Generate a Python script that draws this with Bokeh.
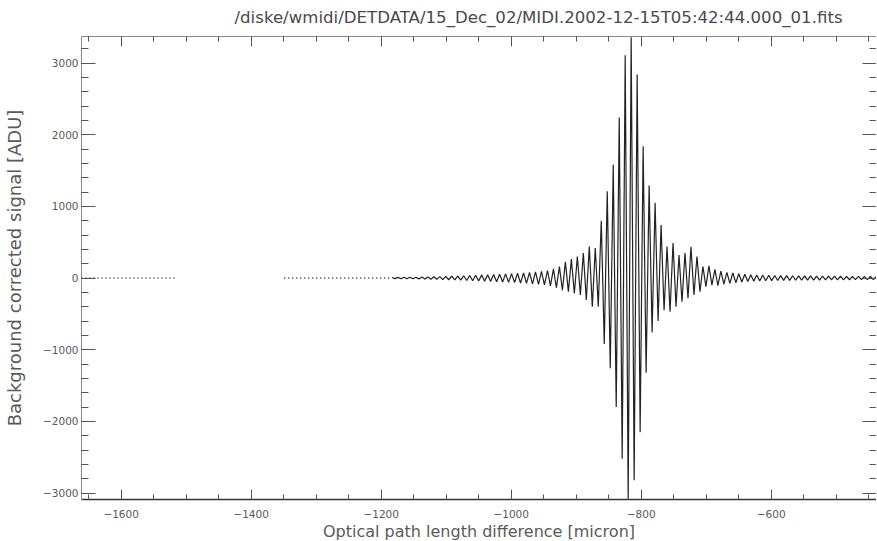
from bokeh.plotting import figure
from bokeh.models import LinearAxis, Range1d, FixedTicker
from bokeh.embed import file_html
from bokeh.resources import INLINE

title_text = "/diske/wmidi/DETDATA/15_Dec_02/MIDI.2002-12-15T05:42:44.000_01.fits"
x_label = "Optical path length difference [micron]"
y_label = "Background corrected signal [ADU]"

# fringe packet: optical path difference of each extremum (micron) and signal (ADU)
opd_um = [
    -1183.4, -1178.8, -1174.2, -1169.6, -1165.0, -1160.4, -1155.8, -1151.2, -1146.6, -1142.0,
    -1137.4, -1132.8, -1128.2, -1123.6, -1119.0, -1114.4, -1109.8, -1105.2, -1100.6, -1096.0,
    -1091.4, -1086.8, -1082.2, -1077.6, -1073.0, -1068.4, -1063.8, -1059.2, -1054.6, -1050.0,
    -1045.4, -1040.8, -1036.2, -1031.6, -1027.0, -1022.4, -1017.8, -1013.2, -1008.6, -1004.0,
    -999.4, -994.8, -990.2, -985.6, -981.0, -976.4, -971.8, -967.2, -962.6, -958.0,
    -953.4, -948.8, -944.2, -939.6, -935.0, -930.4, -925.8, -921.2, -916.6, -912.0,
    -907.4, -902.8, -898.2, -893.6, -889.0, -884.4, -879.8, -875.2, -870.6, -866.0,
    -861.4, -856.8, -852.2, -847.6, -843.0, -838.4, -833.8, -829.2, -824.6, -820.0,
    -815.4,
    -810.8, -806.2, -801.6, -797.0, -792.4, -787.8, -783.2, -778.6, -774.0, -769.4,
    -764.8, -760.2, -755.6, -751.0, -746.4, -741.8, -737.2, -732.6, -728.0, -723.4,
    -718.8, -714.2, -709.6, -705.0, -700.4, -695.8, -691.2, -686.6, -682.0, -677.4,
    -672.8, -668.2, -663.6, -659.0, -654.4, -649.8, -645.2, -640.6, -636.0, -631.4,
    -626.8, -622.2, -617.6, -613.0, -608.4, -603.8, -599.2, -594.6, -590.0, -585.4,
    -580.8, -576.2, -571.6, -567.0, -562.4, -557.8, -553.2, -548.6, -544.0, -539.4,
    -534.8, -530.2, -525.6, -521.0, -516.4, -511.8, -507.2, -502.6, -498.0, -493.4,
    -488.8, -484.2, -479.6, -475.0, -470.4, -465.8, -461.2, -456.6, -452.0, -447.4,
    -442.8, -438.2,
]
signal_adu = [
    8, -8, 9, -9, 10, -10, 11, -11, 12, -12,
    13, -14, 15, -16, 17, -18, 19, -21, 23, -24,
    26, -27, 28, -30, 32, -34, 36, -38, 40, -42,
    44, -45, 46, -48, 50, -52, 54, -56, 58, -60,
    62, -64, 66, -69, 72, -75, 78, -81, 85, -88,
    92, -96, 105, -110, 125, -135, 160, -170, 226, -190,
    264, -215, 300, -235, 350, -305, 440, -400, 420, -400,
    800, -920, 1210, -1260, 1580, -1800, 2240, -2520, 3110, -3080,
    3360,
    -2820, 2840, -2150, 1840, -1320, 1290, -760, 1050, -600, 740,
    -450, 440, -470, 490, -400, 320, -330, 350, -280, 435,
    -236, 300, -190, 160, -120, 170, -100, 120, -105, 95,
    -85, 80, -75, 70, -65, 60, -55, 52, -48, 46,
    -44, 42, -40, 40, -38, 38, -36, 36, -35, 34,
    -33, 33, -32, 32, -31, 31, -30, 30, -30, 29,
    -29, 28, -28, 27, -27, 26, -26, 26, -25, 25,
    -25, 24, -24, 24, -23, 23, -23, 22, -22, 22,
    -21, 21,
]

# flat (dotted) stretches of the scan before the fringe packet
flat_start_um = [-1661, -1349]
flat_end_um = [-1514, -1186]
flat_level_adu = [0, 0]

x_ticks = [-1600, -1400, -1200, -1000, -800, -600]
x_tick_labels = ["\u22121600", "\u22121400", "\u22121200", "\u22121000", "\u2212800", "\u2212600"]
y_ticks = [-3000, -2000, -1000, 0, 1000, 2000, 3000]
y_tick_labels = ["\u22123000", "\u22122000", "\u22121000", "0", "1000", "2000", "3000"]

x_limits = (-1661, -438)
y_limits = (-3090, 3370)

x_minor = list(range(-1650, -400, 50))
y_minor = list(range(-3000, 3400, 200))

FONT = "DejaVu Sans"
TXT = "#5a5a5a"
AX = "#8a8a8a"

p = figure(
    frame_width=795, frame_height=463,
    x_range=Range1d(*x_limits), y_range=Range1d(*y_limits),
    output_backend="svg", toolbar_location=None,
    x_axis_location=None, y_axis_location=None,
    min_border_left=72, min_border_right=0, min_border_top=36, min_border_bottom=41,
)
p.xgrid.visible = False
p.ygrid.visible = False
p.outline_line_color = None
p.background_fill_color = "white"
p.border_fill_color = "white"

p.title.text = title_text
p.title.align = "left"
p.title.offset = 153
p.title.text_font = FONT
p.title.text_font_size = "16.6px"
p.title.text_font_style = "normal"
p.title.text_color = "#4a4a4a"
p.title.standoff = 15
p.title.vertical_align = "top"


def style_axis(ax, tick_in, minor_in, color=AX, width=1):
    ax.major_tick_in = tick_in
    ax.major_tick_out = 0
    ax.minor_tick_in = minor_in
    ax.minor_tick_out = 0
    ax.axis_line_color = color
    ax.axis_line_width = width
    ax.major_tick_line_color = "#555555"
    ax.minor_tick_line_color = "#555555"
    ax.major_label_text_font = FONT
    ax.major_label_text_font_size = "10.5px"
    ax.major_label_text_color = TXT
    ax.axis_label_text_font = FONT
    ax.axis_label_text_font_style = "normal"
    ax.axis_label_text_color = TXT


xt = FixedTicker(ticks=x_ticks, minor_ticks=x_minor)
yt = FixedTicker(ticks=y_ticks, minor_ticks=y_minor)

bottom = LinearAxis(ticker=xt, axis_label=x_label)
style_axis(bottom, 10, 5, color="#333333", width=1.5)
bottom.major_label_overrides = dict(zip(x_ticks, x_tick_labels))
bottom.major_label_standoff = 10
bottom.axis_label_standoff = 1
bottom.axis_label_text_font_size = "16px"
p.add_layout(bottom, "below")

top = LinearAxis(ticker=xt)
style_axis(top, 10, 5)
top.major_label_overrides = {t: "" for t in x_ticks}
top.major_label_text_font_size = "1px"
top.major_label_standoff = 0
p.add_layout(top, "above")

left = LinearAxis(ticker=yt, axis_label=y_label)
style_axis(left, 14, 7)
left.major_label_overrides = dict(zip(y_ticks, y_tick_labels))
left.major_label_standoff = 3
left.axis_label_standoff = 15
left.axis_label_text_font_size = "18px"
p.add_layout(left, "left")

right = LinearAxis(ticker=yt)
style_axis(right, 14, 7)
right.major_label_overrides = {t: "" for t in y_ticks}
right.major_label_text_font_size = "1px"
right.major_label_standoff = 0
p.add_layout(right, "right")

p.segment(x0=flat_start_um, y0=flat_level_adu, x1=flat_end_um, y1=flat_level_adu,
          line_color="#222222", line_width=1.5, line_dash="1 3")
p.line(opd_um, signal_adu, line_color="#222222", line_width=1.2)

open("out.html", "w").write(file_html(p, INLINE))
